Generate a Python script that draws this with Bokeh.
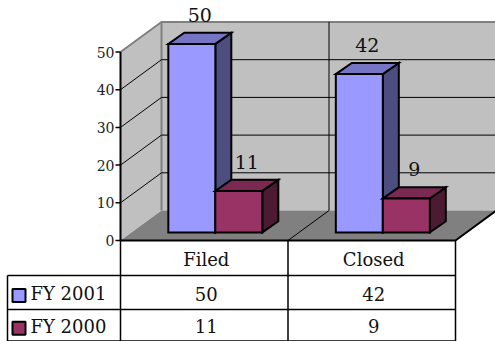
from bokeh.plotting import figure
from bokeh.models import Range1d, ColumnDataSource
from bokeh.embed import file_html
from bokeh.resources import INLINE
from bokeh.core.properties import value

# ---------------- data ----------------
categories = ["Filed", "Closed"]
series_names = ["FY 2001", "FY 2000"]
fy2001 = [50, 42]
fy2000 = [11, 9]
y_ticks = [0, 10, 20, 30, 40, 50]

# ---------------- layout (pixels) ----------------
W, H = 495, 341
X0_PX = 120.0      # y axis position
Y0_PX = 240.0      # zero line position
CAT_PX = 167.5     # width of one category
UNIT_PX = 3.77     # pixels per value unit
FONT = value("DejaVu Serif")

front_cols = ["#9999FF", "#993366"]
top_cols = ["#7575C4", "#7A2952"]
side_cols = ["#4D4D80", "#4D1A33"]

p = figure(width=W, height=H, title=None,
           x_range=Range1d(-X0_PX / CAT_PX, (W - X0_PX) / CAT_PX),
           y_range=Range1d(-(H - Y0_PX) / UNIT_PX, Y0_PX / UNIT_PX),
           output_backend="svg", toolbar_location=None, min_border=0,
           x_axis_location=None, y_axis_location=None)
p.extra_x_ranges = {"px": Range1d(0, W)}
p.extra_y_ranges = {"px": Range1d(H, 0)}
p.grid.visible = False
p.outline_line_color = None
p.background_fill_color = "white"
p.border_fill_color = "white"

n = len(categories)
ymax = y_ticks[-1]
DX = 41 / CAT_PX          # full depth, x
DY = 30 / UNIT_PX         # full depth, y
OFFX, OFFY = 0.27 * DX, 0.27 * DY   # bar front plane
BDX, BDY = 0.39 * DX, 0.37 * DY     # bar depth
BW = 47 / CAT_PX
GAP = (1 - 2 * BW) / 2

# ---------------- walls and floor ----------------
p.patch([0, 0, DX, DX], [0, ymax, ymax + DY, DY], fill_color="#C0C0C0",
        line_color=None)
p.patch([DX, n + DX, n + DX, DX], [DY, DY, ymax + DY, ymax + DY],
        fill_color="#C0C0C0", line_color=None)
p.patch([0, n, n + DX, DX], [0, 0, DY, DY], fill_color="#808080",
        line_color=None)
# wall borders
p.line([0, DX, n + DX], [ymax, ymax + DY, ymax + DY], line_color="#808080",
       line_width=2)
p.line([DX, DX], [DY, ymax + DY], line_color="#808080", line_width=2)

# gridlines
for t in y_ticks[1:-1]:
    p.line([0, DX, n + DX], [t, t + DY, t + DY], line_color="black",
           line_width=1)
for i in range(1, n):
    p.line([i, i + DX, i + DX], [0, DY, ymax + DY], line_color="black",
           line_width=1)

# floor edges
p.line([0, n, n + DX], [0, 0, DY], line_color="black", line_width=2)
p.line([0, 0], [0, ymax], line_color="black", line_width=2)

# ---------------- bars ----------------
xs, ys, fills = [], [], []
labels_x, labels_y, labels_t = [], [], []
series = [fy2001, fy2000]
for i in range(n):
    for s, vals in enumerate(series):
        v = vals[i]
        xl = i + GAP + s * BW + OFFX
        xr = xl + BW
        yb = OFFY
        yt = OFFY + v
        # side
        xs.append([xr, xr + BDX, xr + BDX, xr])
        ys.append([yb, yb + BDY, yt + BDY, yt])
        fills.append(side_cols[s])
        # top
        xs.append([xl, xr, xr + BDX, xl + BDX])
        ys.append([yt, yt, yt + BDY, yt + BDY])
        fills.append(top_cols[s])
        # front
        xs.append([xl, xr, xr, xl])
        ys.append([yb, yb, yt, yt])
        fills.append(front_cols[s])
        labels_x.append((xl + xr) / 2 + BDX / 2)
        labels_y.append(yt + BDY + 18 / UNIT_PX)
        labels_t.append(str(v))

p.patches("xs", "ys", source=ColumnDataSource(dict(xs=xs, ys=ys, fc=fills)),
          fill_color="fc", line_color="black", line_width=2,
          line_join="miter")

p.text(labels_x, labels_y, text=labels_t, text_font=FONT,
       text_font_size="19px", text_align="center",
       text_baseline="middle", text_color="#111111")

# ---------------- y axis ticks ----------------
p.segment(x0=[X0_PX - 5] * len(y_ticks), y0=y_ticks,
          x1=[X0_PX] * len(y_ticks), y1=y_ticks, x_range_name="px",
          line_color="black", line_width=1.5)
p.text([X0_PX - 6] * len(y_ticks), y_ticks, text=[str(t) for t in y_ticks],
       x_range_name="px", text_font=FONT, text_font_size="14px",
       text_align="right", text_baseline="middle", text_color="#222222")

# ---------------- data table ----------------
ROWS = [240, 275, 309, 340.5]
COLS = [7, X0_PX, X0_PX + CAT_PX, X0_PX + 2 * CAT_PX]
tab = dict(x_range_name="px", y_range_name="px")
# horizontal lines
p.segment(x0=[COLS[0], COLS[0], COLS[0]], y0=ROWS[1:],
          x1=[COLS[-1]] * 3, y1=ROWS[1:], line_color="black",
          line_width=1.5, **tab)
# vertical lines
p.segment(x0=[COLS[0], COLS[1], COLS[2], COLS[3]],
          y0=[ROWS[1], ROWS[0], ROWS[0], ROWS[0]],
          x1=[COLS[0], COLS[1], COLS[2], COLS[3]],
          y1=[ROWS[-1]] * 4, line_color="black", line_width=1.5, **tab)

col_centers = [(COLS[j + 1] + COLS[j + 2]) / 2 + 2 for j in range(n)]
row_centers = [(ROWS[k] + ROWS[k + 1]) / 2 + 1 for k in range(3)]
p.text(col_centers, [row_centers[0]] * n, text=categories, text_font=FONT,
       text_font_size="18px", text_align="center", text_baseline="middle",
       text_color="#111111", **tab)
for s, vals in enumerate(series):
    p.text(col_centers, [row_centers[s + 1]] * n, text=[str(v) for v in vals],
           text_font=FONT, text_font_size="18px", text_align="center",
           text_baseline="middle", text_color="#111111", **tab)
p.rect(x=[18.5, 18.5], y=[row_centers[1] + 2, row_centers[2] + 2],
       width=13, height=13, fill_color=front_cols, line_color="black",
       line_width=2, **tab)
p.text([30, 30], [row_centers[1], row_centers[2]], text=series_names,
       text_font=FONT, text_font_size="18px", text_align="left",
       text_baseline="middle", text_color="#111111", **tab)

open("out.html", "w").write(file_html(p, INLINE))
